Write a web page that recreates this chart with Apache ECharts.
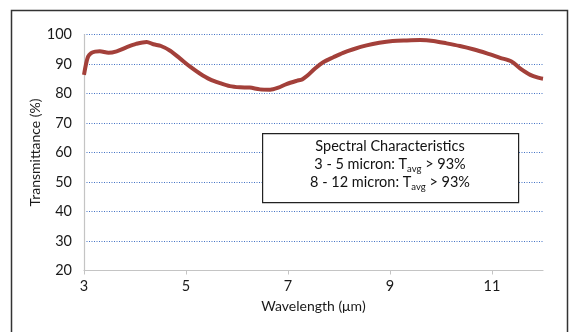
<!DOCTYPE html>
<html>
<head>
<meta charset="utf-8">
<script src="https://cdn.jsdelivr.net/npm/echarts@6/dist/echarts.min.js"></script>
<style>
  html, body { margin: 0; padding: 0; background: #fff; }
  #chart { width: 569px; height: 332px; }
</style>
</head>
<body>
<div id="chart"></div>
<script>
// wavelength in micron, transmittance in %
const wavelength = [3.0, 3.04, 3.08, 3.14, 3.22, 3.31, 3.48, 3.64, 3.84, 4.02, 4.23, 4.36, 4.51, 4.69, 4.88,
  5.08, 5.27, 5.47, 5.67, 5.86, 6.06, 6.25, 6.45, 6.65, 6.81, 6.97, 7.17, 7.28, 7.37, 7.53, 7.69, 7.89,
  8.08, 8.28, 8.54, 8.79, 9.05, 9.33, 9.59, 9.85, 10.11, 10.37, 10.63, 10.9, 11.16, 11.39, 11.55, 11.75, 11.94, 12.0];
const transmittance = [86.3, 90.0, 92.5, 93.7, 94.2, 94.3, 93.8, 94.3, 95.7, 96.8, 97.5, 96.7, 96.1, 94.5, 91.9,
  89.1, 86.8, 84.8, 83.5, 82.5, 82.1, 82.0, 81.4, 81.3, 82.0, 83.2, 84.3, 84.8, 85.9, 88.5, 90.6, 92.3,
  93.8, 95.0, 96.3, 97.2, 97.8, 98.0, 98.1, 97.8, 97.0, 96.1, 95.0, 93.6, 92.1, 90.8, 88.5, 86.3, 85.2, 85.0];
const xTicks = [3, 5, 7, 9, 11];
const noteLines = ['Spectral Characteristics', '3 - 5 micron: T{sub|avg} > 93%', '8 - 12 micron: T{sub|avg} > 93%'];

const font = 'Lato, "Noto Sans", sans-serif';
const chart = echarts.init(document.getElementById('chart'));

const option = {
  animation: false,
  grid: { left: 84, right: 26, top: 34.5, bottom: 61.5 },
  xAxis: {
    type: 'value',
    min: 3,
    max: 12,
    name: 'Wavelength (μm)',
    nameLocation: 'middle',
    nameGap: 29,
    nameMoveOverlap: false,
    nameTextStyle: { fontFamily: font, fontSize: 14, color: '#1a1a1a' },
    axisLine: { lineStyle: { color: '#c4c4c4', width: 1.2 } },
    axisTick: { show: true, length: 4, lineStyle: { color: '#c4c4c4' }, customValues: xTicks },
    axisLabel: { fontFamily: font, fontSize: 14.5, color: '#1a1a1a', margin: 8, customValues: xTicks },
    splitLine: { show: false },
    z: 5
  },
  yAxis: {
    type: 'value',
    min: 20,
    max: 100,
    interval: 10,
    name: 'Transmittance (%)',
    nameLocation: 'middle',
    nameGap: 42,
    nameMoveOverlap: false,
    nameTextStyle: { fontFamily: font, fontSize: 14, color: '#1a1a1a' },
    axisLine: { show: true, lineStyle: { color: '#c4c4c4', width: 1.2 } },
    axisTick: { show: false },
    axisLabel: { fontFamily: font, fontSize: 14.5, color: '#1a1a1a', margin: 12 },
    splitLine: { show: true, lineStyle: { color: '#4472c4', type: [1, 1.5], width: 1 } }
  },
  series: [{
    type: 'line',
    data: wavelength.map((w, i) => [w, transmittance[i]]),
    showSymbol: false,
    smooth: 0.3,
    lineStyle: { color: '#a3403a', width: 4 },
    z: 3
  }],
  graphic: [
    {
      type: 'rect',
      left: 9, top: 8,
      shape: { width: 556, height: 340 },
      style: { fill: 'none', stroke: '#333', lineWidth: 1.5 },
      silent: true
    },
    {
      type: 'rect',
      left: 262, top: 133,
      shape: { width: 256, height: 69 },
      style: { fill: '#fff', stroke: '#222', lineWidth: 1.2 },
      z: 10
    },
    ...noteLines.map((t, i) => ({
      type: 'text',
      x: 390, y: 146 + i * 18,
      z: 11,
      style: {
        text: t,
        align: 'center',
        verticalAlign: 'middle',
        fontFamily: font,
        fontSize: 14.5,
        fill: '#111',
        rich: {
          sub: { fontFamily: font, fontSize: 9.5, fill: '#111', padding: [9, 0, 0, 0] }
        }
      }
    }))
  ]
};
chart.setOption(option);
</script>
</body>
</html>
